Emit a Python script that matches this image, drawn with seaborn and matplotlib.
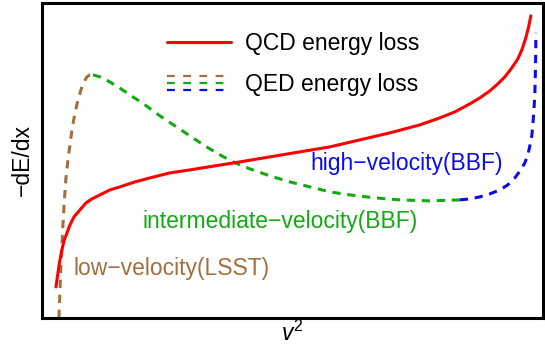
import numpy as np
import pandas as pd
import matplotlib
matplotlib.use('Agg')
import matplotlib.pyplot as plt
from matplotlib.lines import Line2D
from matplotlib.legend_handler import HandlerBase
import seaborn as sns

sns.set_style('white')
plt.rcParams['font.family'] = ['Liberation Sans', 'DejaVu Sans']
plt.rcParams['text.color'] = 'black'
plt.rcParams['axes.labelcolor'] = 'black'
plt.rcParams['mathtext.fontset'] = 'custom'
plt.rcParams['mathtext.it'] = 'Liberation Sans:italic'
plt.rcParams['mathtext.rm'] = 'Liberation Sans'

# curves (arbitrary units, 0-100)
qcd_x = [2.79, 2.99, 3.19, 3.39, 3.59, 3.99, 4.39, 4.99, 5.59, 6.39, 7.58, 8.78, 9.98,
         11.58, 13.57, 15.57, 18.56, 21.56, 25.55, 29.54, 34.53, 39.52, 45.51, 51.50,
         57.49, 63.47, 69.46, 75.45, 79.44, 82.44, 85.43, 87.43, 89.42, 91.02, 92.42,
         93.81, 95.01, 95.81, 96.61, 97.21, 97.60]
qcd_y = [9.84, 12.06, 14.29, 16.51, 18.41, 21.59, 24.44, 26.98, 29.52, 32.06, 34.29,
         36.51, 37.78, 39.05, 40.63, 41.59, 43.17, 44.44, 46.03, 46.98, 48.25, 49.52,
         51.11, 52.70, 54.29, 56.51, 58.73, 61.27, 63.49, 65.40, 67.94, 69.84, 72.06,
         74.29, 76.51, 79.37, 82.22, 85.08, 88.89, 92.70, 95.87]

low_x = [3.39, 3.49, 3.59, 3.69, 3.79, 3.99, 4.19, 4.39, 4.59, 4.79, 5.19, 5.59, 5.99,
         6.59, 7.19, 7.78, 8.38, 8.98, 9.58, 10.18]
low_y = [0.0, 4.13, 8.25, 12.70, 16.83, 23.17, 29.52, 35.24, 40.00, 44.44, 50.16, 54.92,
         59.68, 65.08, 69.21, 72.38, 74.92, 76.51, 77.14, 77.14]

mid_x = [10.18, 11.58, 13.17, 15.17, 17.56, 20.56, 23.55, 26.55, 29.54, 32.53, 35.53,
         38.52, 41.52, 45.51, 49.50, 53.49, 57.49, 61.48, 66.47, 71.46, 77.45, 83.43]
mid_y = [77.14, 76.51, 75.24, 73.33, 70.79, 67.62, 64.13, 60.95, 57.78, 54.60, 51.75,
         49.21, 47.30, 45.08, 43.17, 41.59, 40.00, 39.05, 38.10, 37.46, 37.14, 37.46]

high_x = [83.43, 85.43, 87.43, 89.42, 91.42, 93.01, 94.41, 95.61, 96.41, 97.01, 97.41,
          97.80, 98.00, 98.20, 98.40, 98.50, 98.58, 98.62]
high_y = [37.46, 37.78, 38.41, 39.37, 40.63, 42.22, 44.44, 46.98, 49.21, 51.75, 54.60,
          57.78, 61.27, 65.40, 70.79, 77.14, 83.49, 90.48]

c_qcd = '#ff0000'
c_low = '#a2703f'
c_mid = '#12aa12'
c_high = '#0b0bee'
dash = (0, (2.7, 2.2))

fig = plt.figure(figsize=(5.45, 3.56), dpi=100)
ax = fig.add_axes([0.077, 0.107, 0.919, 0.885])

sns.lineplot(x=low_x, y=low_y, sort=False, color=c_low, lw=2.2, linestyle=dash, ax=ax)
sns.lineplot(x=mid_x, y=mid_y, sort=False, color=c_mid, lw=2.2, linestyle=dash, ax=ax)
sns.lineplot(x=high_x, y=high_y, sort=False, color=c_high, lw=2.2, linestyle=dash, ax=ax)
sns.lineplot(x=qcd_x, y=qcd_y, sort=False, color=c_qcd, lw=2.2, ax=ax)

ax.set_xlim(0, 100)
ax.set_ylim(0, 100)
ax.set_xticks([])
ax.set_yticks([])
for s in ax.spines.values():
    s.set_linewidth(2.2)
    s.set_color('black')

fs = 16.5
ax.set_xlabel(r'$v^2$', fontsize=fs, labelpad=2)
ax.set_ylabel('\u2212dE/dx', fontsize=fs, labelpad=6)

ax.text(6.2, 15.8, 'low\u2212velocity(LSST)', color=c_low, fontsize=fs, va='center')
ax.text(20.0, 30.5, 'intermediate\u2212velocity(BBF)', color=c_mid, fontsize=fs, va='center')
ax.text(53.5, 49.0, 'high\u2212velocity(BBF)', color=c_high, fontsize=fs, va='center')


class HandlerStack(HandlerBase):
    def create_artists(self, legend, orig_handle, xdescent, ydescent,
                       width, height, fontsize, trans):
        arts = []
        yc = height / 2 - ydescent
        for i, ln in enumerate(orig_handle):
            y = yc + (1 - i) * 4.8
            l = Line2D([-xdescent, -xdescent + width], [y, y], color=ln.get_color(),
                       lw=1.6, linestyle=(0, (3.5, 3.8)), transform=trans)
            arts.append(l)
        return arts


qcd_h = Line2D([], [], color=c_qcd, lw=2.2)
qed_h = tuple(Line2D([], [], color=c) for c in [c_low, c_mid, c_high])
ax.legend([qcd_h, qed_h], ['QCD energy loss', 'QED energy loss'],
          handler_map={tuple: HandlerStack()}, frameon=False, fontsize=fs,
          loc='upper left', bbox_to_anchor=(0.25, 0.908), borderaxespad=0,
          borderpad=0, handlelength=2.8, handletextpad=0.6, labelspacing=0.8)

fig.savefig('out.png', dpi=100)
